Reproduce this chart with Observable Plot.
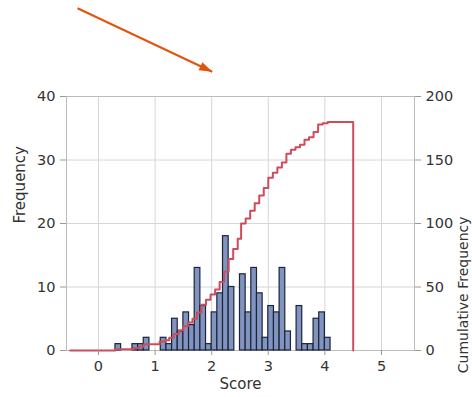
<!DOCTYPE html>
<html><head><meta charset="utf-8">
<script src="https://cdn.jsdelivr.net/npm/d3@7"></script>
<script src="https://cdn.jsdelivr.net/npm/@observablehq/plot@0.6"></script>
<style>html,body{margin:0;padding:0;background:#fff} #chart svg{display:block}</style>
</head><body><div id="chart"></div>
<script>
// Histogram bins (left edges) and counts
const binStart = [0.3,0.4,0.5,0.6,0.7,0.8,0.9,1.0,1.1,1.2,1.3,1.4,1.5,1.6,1.7,1.8,1.9,2.0,2.1,2.2,2.3,2.4,2.5,2.6,2.7,2.8,2.9,3.0,3.1,3.2,3.3,3.4,3.5,3.6,3.7,3.8,3.9,4.0];
const counts   = [1,  0,  0,  1,  1,  2,  0,  0,  2,  1,  5,  3,  6,  4, 13,  7,  1,  6,  9, 18, 10,  0, 12,  6, 13,  9,  2,  7,  6, 13,  3,  0,  7,  1,  1,  5,  6,  2];
const binWidth = 0.1;
// Cumulative frequency step line (step start, value after step)
const cumX = [-0.5,0.30,0.62,0.72,0.80,1.08,1.18,1.25,1.33,1.42,1.50,1.58,1.66,1.74,1.82,1.90,1.98,2.06,2.14,2.22,2.30,2.38,2.46,2.52,2.60,2.68,2.76,2.84,2.92,3.00,3.08,3.16,3.24,3.32,3.40,3.48,3.56,3.64,3.72,3.80,3.88,3.96,4.05,4.50,4.50];
const cumY = [0,   1,   2,   3,   5,   7,   8,   10,  13,  16,  19,  22,  25,  30,  36,  40,  44,  48,  54,  62,  72,  80,  88,  100, 104, 110, 116, 122, 128, 136, 140, 144, 148, 155, 158, 160, 162, 166, 168, 172, 178, 179, 180, 180, 0];
const xTicks = [0,1,2,3,4,5];
const yTicks = [0,10,20,30,40];
const y2Ticks = [0,50,100,150,200];
// annotation arrow (score, frequency units)
const arrowSeg = [{x1:-0.37, y1:53.9, x2:2.01, y2:43.9}];

const y2 = d3.scaleLinear([0,200],[0,40]);
const linePts = cumX.map((x,i)=>({x, v:cumY[i]}));
const bars = binStart.map((b,i)=>({x1:b, x2:b+binWidth, y:counts[i]})).filter(d=>d.y>0);

const headSymbol = {draw(ctx){ctx.moveTo(0,0);ctx.lineTo(4.5,13);ctx.lineTo(-4.5,13);ctx.closePath();}};

const chart = Plot.plot({
  width:472, height:397,
  marginLeft:66, marginRight:58, marginTop:96, marginBottom:47,
  x:{domain:[-0.565,5.583]},
  y:{domain:[0,40]},
  style:{fontFamily:"DejaVu Sans", fontSize:"14.5px", color:"#333", background:"white"},
  marks:[
    Plot.gridX(xTicks,{stroke:"#d6d6d6", strokeOpacity:1}),
    Plot.gridY(yTicks,{stroke:"#d6d6d6", strokeOpacity:1}),
    Plot.frame({stroke:"#bcbcbc"}),
    Plot.rectY(bars,{x1:"x1",x2:"x2",y:"y",fill:"#8194c0",stroke:"#1b2438",strokeWidth:1.2}),
    Plot.line(linePts,{x:"x",y:d=>y2(d.v),curve:"step-after",stroke:"#cc4d5e",strokeWidth:2}),
    Plot.axisX(xTicks,{tickSize:5,tickPadding:5,label:null,stroke:"#999"}),
    Plot.axisY(yTicks,{tickSize:6,tickPadding:5,label:null,stroke:"#999"}),
    Plot.axisY(y2Ticks,{anchor:"right", y:y2, tickSize:6, tickPadding:5, label:null, stroke:"#999"}),
    Plot.text(["Score"],{frameAnchor:"bottom", dy:38, fontSize:15, fill:"#333"}),
    Plot.text(["Frequency"],{frameAnchor:"left", dx:-46, rotate:-90, fontSize:15, fill:"#333"}),
    Plot.text(["Cumulative Frequency"],{frameAnchor:"right", dx:49, dy:-7, rotate:-90, fontSize:14, fill:"#333"}),
    Plot.link(arrowSeg,{x1:"x1",y1:"y1",x2:"x2",y2:"y2",stroke:"#e2530d",strokeWidth:2}),
    Plot.dot(arrowSeg,{x:"x2",y:"y2",symbol:headSymbol,fill:"#e2530d",stroke:null,rotate:115})
  ]
});
document.getElementById("chart").append(chart);
</script>
</body></html>
